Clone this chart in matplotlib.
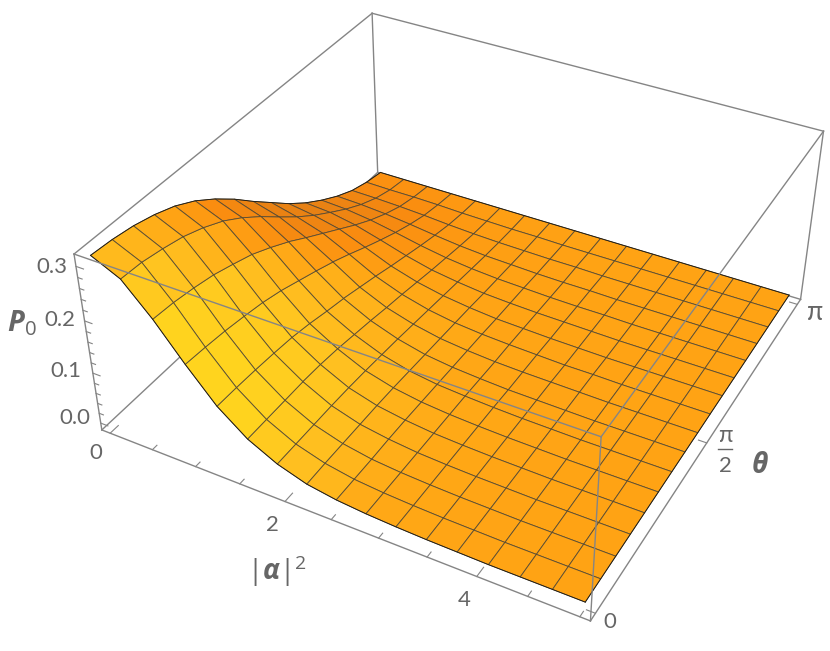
"""P0 surface over |alpha|^2 and theta, drawn with mplot3d."""
import numpy as np
import matplotlib; matplotlib.use("Agg")
import matplotlib.pyplot as plt
from matplotlib.colors import LinearSegmentedColormap

plt.rcParams.update({"font.family": ["Lato", "Open Sans", "DejaVu Sans"],
                     "mathtext.fontset": "custom",
                     "mathtext.rm": "Open Sans",
                     "mathtext.it": "Open Sans:italic",
                     "mathtext.bf": "Open Sans:bold",
                     "mathtext.bfit": "Open Sans:italic:bold"})

alpha2 = np.linspace(0, 5, 17)
theta = np.linspace(0, np.pi, 17)
# one row per theta, one column per alpha2 node
P0 = np.array([
    [.315, .290, .235, .170, .110, .067, .039, .021, .012, .007, .004, .002, .001, 0, 0, 0, 0],
    [.312, .288, .232, .167, .109, .067, .039, .022, .012, .007, .004, .002, .001, 0, 0, 0, 0],
    [.306, .281, .226, .163, .107, .067, .039, .022, .012, .007, .004, .002, .001, 0, 0, 0, 0],
    [.296, .272, .218, .157, .104, .067, .039, .022, .013, .007, .004, .002, .001, 0, 0, 0, 0],
    [.282, .258, .206, .150, .100, .065, .038, .022, .013, .007, .004, .002, .001, 0, 0, 0, 0],
    [.262, .240, .193, .140, .093, .061, .036, .021, .012, .007, .004, .002, .001, 0, 0, 0, 0],
    [.236, .216, .175, .127, .084, .055, .033, .019, .011, .007, .004, .002, .001, 0, 0, 0, 0],
    [.206, .188, .155, .114, .076, .049, .030, .017, .010, .006, .003, .002, .001, 0, 0, 0, 0],
    [.172, .157, .132, .100, .066, .042, .026, .015, .009, .005, .003, .002, .001, 0, 0, 0, 0],
    [.140, .127, .110, .084, .056, .036, .022, .013, .008, .005, .003, .001, .001, 0, 0, 0, 0],
    [.108, .100, .088, .067, .045, .029, .018, .011, .006, .004, .002, .001, 0, 0, 0, 0, 0],
    [.080, .076, .066, .051, .035, .022, .014, .008, .005, .003, .002, .001, 0, 0, 0, 0, 0],
    [.056, .053, .046, .036, .025, .016, .010, .006, .004, .002, .001, .001, 0, 0, 0, 0, 0],
    [.035, .033, .029, .023, .016, .010, .006, .004, .002, .001, .001, 0, 0, 0, 0, 0, 0],
    [.018, .017, .015, .012, .008, .005, .003, .002, .001, .001, 0, 0, 0, 0, 0, 0, 0],
    [.007, .006, .006, .005, .003, .002, .001, .001, 0, 0, 0, 0, 0, 0, 0, 0, 0],
    [0, 0, 0, 0, 0, 0, 0, 0, 0, 0, 0, 0, 0, 0, 0, 0, 0],
])
alpha_ticks = [0, .5, 1, 1.5, 2, 2.5, 3, 3.5, 4, 4.5, 5]
theta_ticks = [0, np.pi/2, np.pi]
p0_ticks = [0, .02, .04, .06, .08, .1, .12, .14, .16, .18, .2, .22, .24, .26, .28, .3]

XLIM, YLIM, ZLIM = (-0.1, 5.1), (-0.0628, 3.2044), (-0.014, 0.322)
GRAY, TXT = "#858585", "#666666"

fig = plt.figure(figsize=(8.3, 6.51), dpi=100)
ax = fig.add_axes([-46.07/830, -141.1/651, 1000/830, 1000/651], projection="3d")
ax.set_proj_type("persp", focal_length=0.3332)
ax.view_init(elev=36.19, azim=-61.58)
ax.set_box_aspect((1, 1, 0.4), zoom=0.7595)
ax.set_xlim(*XLIM, view_margin=0); ax.set_ylim(*YLIM, view_margin=0); ax.set_zlim(*ZLIM, view_margin=0)
ax.set_axis_off()
ax.computed_zorder = False

# facet colours from the surface slope
A, T = np.meshgrid(alpha2, theta)
dz_t, dz_a = np.gradient(P0/0.336*0.4, 1/16, 1/16)
norm = np.sqrt(dz_a**2 + dz_t**2 + 1)
shade = 0.55 + 0.6*(-dz_a/norm) - 1.2*(-dz_t/norm)
cmap = LinearSegmentedColormap.from_list("p0", [(0, "#E57F14"), (.3, "#FA8C10"), (.55, "#FFA314"),
                                                (.8, "#FFC020"), (1, "#FFD81E")])
ax.plot_surface(A, T, P0, facecolors=cmap(np.clip(shade, 0, 1)), rstride=1, cstride=1, shade=False,
                edgecolor=(.3, .27, .2, .85), linewidth=0.65, antialiased=True, zorder=2)
for a, t, z in [(A[0], T[0], P0[0]), (A[-1], T[-1], P0[-1]), (A[:, 0], T[:, 0], P0[:, 0]), (A[:, -1], T[:, -1], P0[:, -1])]:
    ax.plot(a, t, z, color="#201a10", lw=0.6, zorder=2.5)

# bounding box
x0, x1 = XLIM; y0, y1 = YLIM; z0, z1 = ZLIM
back = [((x0,y0,z0),(x1,y0,z0)), ((x1,y0,z0),(x1,y1,z0)), ((x1,y1,z0),(x0,y1,z0)), ((x0,y1,z0),(x0,y0,z0)),
        ((x0,y0,z0),(x0,y0,z1)), ((x1,y1,z0),(x1,y1,z1)), ((x0,y1,z0),(x0,y1,z1)),
        ((x0,y0,z1),(x0,y1,z1)), ((x0,y1,z1),(x1,y1,z1))]
front_edges = [((x0,y0,z1),(x1,y0,z1)), ((x1,y0,z1),(x1,y1,z1)), ((x1,y0,z0),(x1,y0,z1))]
for edges, zo in ((back, 1), (front_edges, 3)):
    for p, q in edges:
        ax.plot(*zip(p, q), color=GRAY, lw=1.0, zorder=zo)

# ticks, drawn inward
for v in alpha_ticks:
    L = 0.08 if v % 2 == 0 else 0.045
    ax.plot([v, v], [y0, y0+L], [z0, z0], color=GRAY, lw=0.8, zorder=1)
for v in theta_ticks:
    ax.plot([x1, x1-0.085], [v, v], [z0, z0], color=GRAY, lw=0.8, zorder=1)
for v in p0_ticks:
    L = 0.085 if round(v*100) % 10 == 0 else 0.05
    ax.plot([x0, x0+L], [y0, y0], [v, v], color=GRAY, lw=0.8, zorder=1)

def label(px, py, s, **kw):
    kw.setdefault("fontsize", 16); kw.setdefault("color", TXT)
    fig.text(px/830, 1-py/651, s, ha="center", va="center", **kw)

for px, py, s in [(52,267,"0.3"),(60,320,"0.2"),(66,371,"0.1"),(75,418,"0.0"),
                  (96,453,"0"),(272,525,"2"),(464,600,"4"),(610,622,"0")]:
    label(px, py, s)
label(815, 313, "π", fontsize=19)
label(725, 436, "π", fontsize=17); label(725, 466, "2")
fig.add_artist(plt.Line2D([718/830, 732/830], [1-449/651]*2, color=TXT, lw=1))
label(22, 323, r"$\mathbfit{P}_{\mathrm{0}}$", fontsize=21)
label(760, 465, r"$\mathbfit{θ}$", fontsize=20)
label(277, 571, r"$|\mathbfit{α}|^{\mathrm{2}}$", fontsize=20)
fig.savefig("out.png", dpi=100)
